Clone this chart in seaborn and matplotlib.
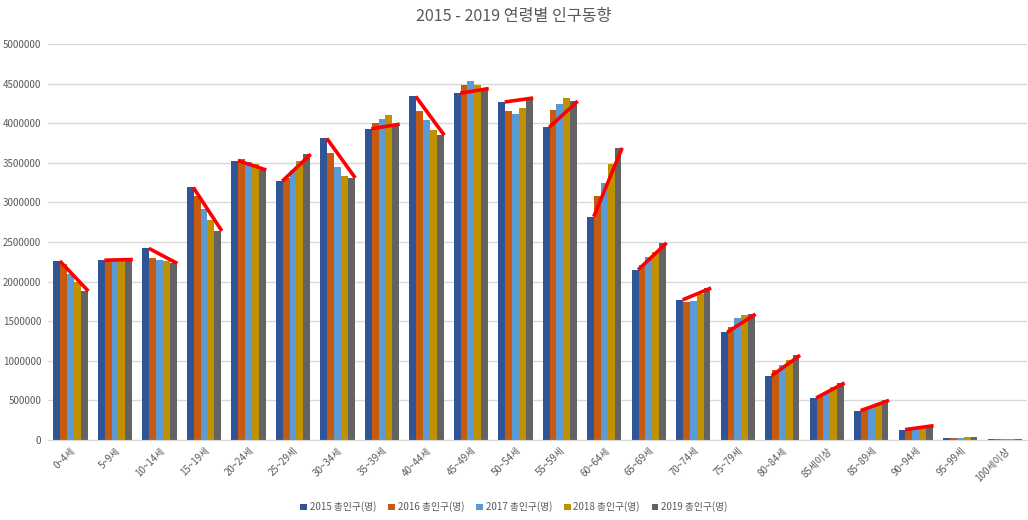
import pandas as pd
import matplotlib
matplotlib.use("Agg")
import matplotlib.pyplot as plt
import seaborn as sns

# age groups and yearly totals (people)
ages = ["0~4세", "5~9세", "10~14세", "15~19세", "20~24세", "25~29세", "30~34세",
        "35~39세", "40~44세", "45~49세", "50~54세", "55~59세", "60~64세", "65~69세",
        "70~74세", "75~79세", "80~84세", "85세이상", "85~89세", "90~94세", "95~99세", "100세이상"]
years = ["2015 총인구(명)", "2016 총인구(명)", "2017 총인구(명)", "2018 총인구(명)", "2019 총인구(명)"]

pop_2015 = [2260000, 2270000, 2420000, 3190000, 3530000, 3270000, 3810000, 3930000, 4340000, 4380000, 4270000,
            3950000, 2820000, 2150000, 1770000, 1360000, 810000, 530000, 370000, 130000, 25000, 10000]
pop_2016 = [2220000, 2280000, 2300000, 3080000, 3550000, 3310000, 3620000, 4000000, 4150000, 4490000, 4150000,
            4170000, 3080000, 2210000, 1740000, 1430000, 880000, 560000, 390000, 140000, 25000, 10000]
pop_2017 = [2100000, 2280000, 2270000, 2920000, 3510000, 3410000, 3450000, 4060000, 4040000, 4530000, 4120000,
            4250000, 3240000, 2310000, 1750000, 1540000, 950000, 610000, 430000, 150000, 25000, 10000]
pop_2018 = [2000000, 2280000, 2260000, 2780000, 3480000, 3520000, 3330000, 4100000, 3910000, 4490000, 4190000,
            4320000, 3480000, 2370000, 1840000, 1580000, 1010000, 670000, 470000, 160000, 35000, 11000]
pop_2019 = [1880000, 2280000, 2230000, 2640000, 3410000, 3610000, 3310000, 3990000, 3850000, 4440000, 4320000,
            4280000, 3690000, 2490000, 1920000, 1590000, 1070000, 720000, 500000, 180000, 35000, 11000]

# groups that got a red trend mark (all but the last two)
marked = ages[:20]

series = [pop_2015, pop_2016, pop_2017, pop_2018, pop_2019]
rows = []
for y, vals in zip(years, series):
    for a, v in zip(ages, vals):
        rows.append({"age": a, "year": y, "pop": v})
df = pd.DataFrame(rows)

colors = ["#2F5597", "#C55A11", "#5B9BD5", "#BF9000", "#636363"]

sns.set_style("white")
plt.rcParams["font.family"] = ["Noto Sans CJK KR", "DejaVu Sans"]

fig = plt.figure(figsize=(10.28, 5.2), dpi=100)
ax = fig.add_axes([0.047, 0.154, 0.952, 0.761])

sns.barplot(data=df, x="age", y="pop", hue="year", palette=colors, width=0.77,
            saturation=1, linewidth=0, ax=ax, order=ages, hue_order=years)

# red trend marks from first to last year
for i, a in enumerate(ages):
    if a not in marked:
        continue
    ax.plot([i - 0.24, i + 0.4], [pop_2015[i], pop_2019[i]], color="#FF0000",
            linewidth=2.6, solid_capstyle="butt", zorder=5)

ax.set_ylim(0, 5000000)
ax.set_xlim(-0.5, len(ages) - 0.5)
ax.set_yticks(range(0, 5000001, 500000))
ax.set_yticklabels([str(v) for v in range(0, 5000001, 500000)])
ax.yaxis.grid(True, color="#D9D9D9", linewidth=1)
ax.set_axisbelow(True)
for s in ["top", "right", "left"]:
    ax.spines[s].set_visible(False)
ax.spines["bottom"].set_color("#D9D9D9")
ax.tick_params(axis="y", length=0, labelsize=7, colors="#595959", pad=5)
ax.tick_params(axis="x", length=0, labelsize=7, colors="#595959", pad=4)
plt.setp(ax.get_xticklabels(), rotation=45, ha="right", rotation_mode="anchor")
ax.set_xlabel("")
ax.set_ylabel("")

fig.suptitle("2015 - 2019 연령별 인구동향", y=0.985, fontsize=11.6, color="#595959")

handles, labels = ax.get_legend_handles_labels()
ax.legend_.remove()
fig.legend(handles, labels, loc="center", bbox_to_anchor=(0.5, 0.025), ncol=5, frameon=False,
           fontsize=7, handlelength=0.7, handleheight=0.7, handletextpad=0.3, columnspacing=1.2,
           labelcolor="#595959")

fig.savefig("out.png", dpi=100)
